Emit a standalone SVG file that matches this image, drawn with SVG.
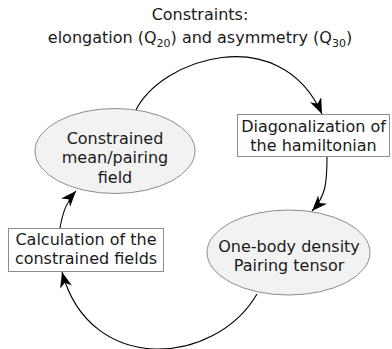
<svg xmlns="http://www.w3.org/2000/svg" width="392" height="349" viewBox="0 0 392 349">
<defs>
<marker id="ah" markerUnits="userSpaceOnUse" markerWidth="20" markerHeight="20" viewBox="-16 -8 18 16" refX="0" refY="0" orient="auto" overflow="visible">
<path d="M0,0 L-14,-5.5 L-10,0 L-14,5.5 Z" fill="#000"/>
</marker>
<style>
text{font-family:"DejaVu Sans","Liberation Sans",sans-serif;font-size:16px;fill:#1a1a1a;text-anchor:middle}
.ell{fill:#f2f2f2;stroke:#8c8c8c;stroke-width:1}
.box{fill:#fff;stroke:#8c8c8c;stroke-width:1}
.con{fill:none;stroke:#000;stroke-width:1.1;marker-end:url(#ah)}
.sub{font-size:11px}
</style>
</defs>
<g id="title">
<text x="200" y="20">Constraints:</text>
<text x="200" y="43">elongation (Q<tspan class="sub" dy="4">20</tspan><tspan dy="-4">) and asymmetry (Q</tspan><tspan class="sub" dy="4">30</tspan><tspan dy="-4">)</tspan></text>
</g>
<g id="connectors">
<path class="con" d="M135,112 C160,58 280,20 322,114"/>
<path class="con" d="M327,157 C327,182 326,196 312,211"/>
<path class="con" d="M257,294 C215,366 90,376 62,272"/>
<path class="con" d="M60,228 C63,211 67,201 76,191"/>
</g>
<g id="mean-field">
<ellipse class="ell" cx="115" cy="151" rx="80" ry="42.5"/>
<text x="115" y="143.5">Constrained</text>
<text x="115" y="163">mean/pairing</text>
<text x="115" y="182.5">field</text>
</g>
<g id="diagonalization">
<rect class="box" x="237.5" y="114.5" width="152" height="42"/>
<text x="313.5" y="132">Diagonalization of</text>
<text x="313.5" y="151">the hamiltonian</text>
</g>
<g id="density">
<ellipse class="ell" cx="288.5" cy="252.5" rx="81.5" ry="42.5"/>
<text x="289" y="252">One-body density</text>
<text x="289" y="270.5">Pairing tensor</text>
</g>
<g id="calculation">
<rect class="box" x="8.5" y="228.5" width="155" height="43"/>
<text x="86" y="245">Calculation of the</text>
<text x="86" y="264">constrained fields</text>
</g>
</svg>
